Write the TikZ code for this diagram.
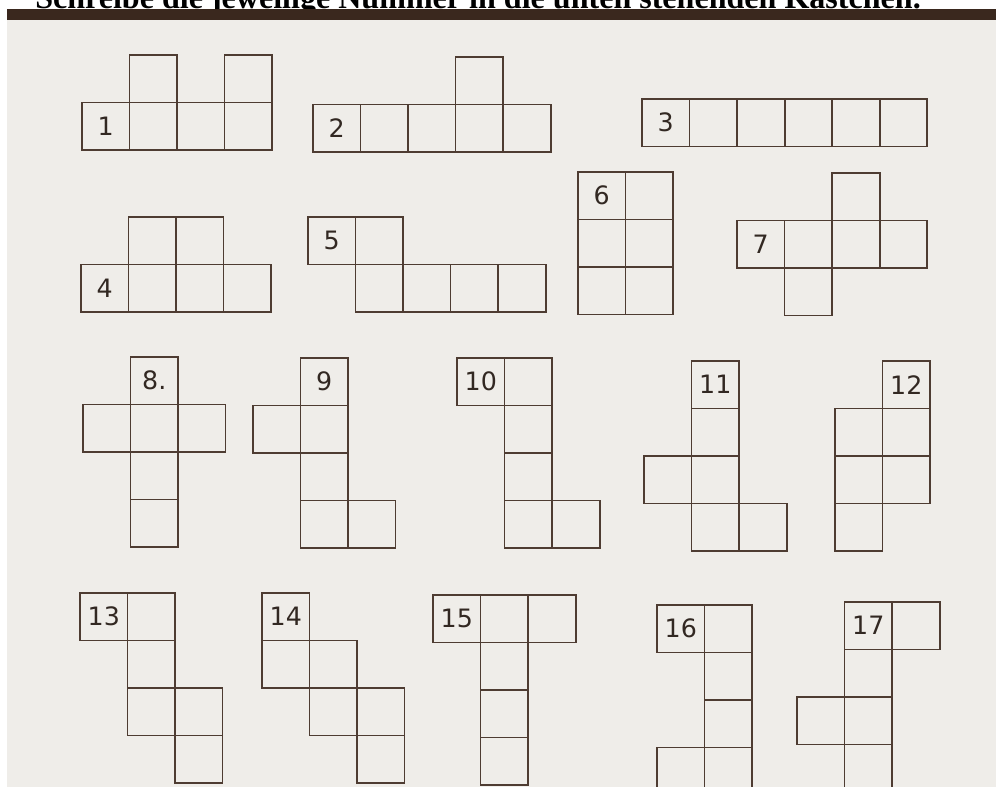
\documentclass[tikz,border=0pt]{standalone}
\usepackage{fontspec}
\setmainfont{Liberation Serif}
\setsansfont{DejaVu Sans}
\usetikzlibrary{positioning}
\definecolor{papier}{RGB}{239,237,233}
\definecolor{balken}{RGB}{58,40,30}
\definecolor{strich}{RGB}{78,60,50}
\definecolor{ziffer}{RGB}{50,40,34}

\begin{document}
\begin{tikzpicture}[x=0.025cm, y=-0.025cm,
    feld/.style={rectangle, draw=strich, line width=0.048cm, minimum size=1.1875cm, inner sep=0pt, outer sep=0pt},
    nr/.style={font=\sffamily\fontsize{18pt}{19pt}\selectfont, text=ziffer}
]
\useasboundingbox (0,0) rectangle (996,787);
\clip (0,0) rectangle (996,787);

% === BLATT & KOPFZEILE ===
\fill[white] (0,0) rectangle (996,787);
\fill[papier] (7,20) rectangle (996,787);
\node (titel) [anchor=base west, inner sep=0pt, font=\bfseries\fontsize{22.8pt}{24pt}\selectfont] at (35,9) {Schreibe die jeweilige Nummer in die unten stehenden Kästchen.};
\fill[balken] (7,9) rectangle (996,20);

% === WUERFELNETZE 1--17 ===
% Nummer / Ursprung x / y / Beschriftung / Nummernfeld / uebrige Felder
\foreach \nm/\ox/\oy/\lab/\lc/\lr/\zellen in {
    1/82/55/1/0/1/{1/1,2/1,3/1,1/0,3/0},
    2/313/57/2/0/1/{1/1,2/1,3/1,4/1,3/0},
    3/642/99/3/0/0/{1/0,2/0,3/0,4/0,5/0},
    4/81/217/4/0/1/{1/1,2/1,3/1,1/0,2/0},
    5/308/217/5/0/0/{1/0,1/1,2/1,3/1,4/1},
    6/578/172/6/0/0/{1/0,0/1,1/1,0/2,1/2},
    7/737/173/7/0/1/{2/0,1/1,2/1,3/1,1/2},
    8/83/357/8./1/0/{0/1,1/1,2/1,1/2,1/3},
    9/253/358/9/1/0/{0/1,1/1,1/2,1/3,2/3},
    10/457/358/10/0/0/{1/0,1/1,1/2,1/3,2/3},
    11/644/361/11/1/0/{1/1,0/2,1/2,1/3,2/3},
    12/835/361/12/1/0/{0/1,1/1,0/2,1/2,0/3},
    13/80/593/13/0/0/{1/0,1/1,1/2,2/2,2/3},
    14/262/593/14/0/0/{0/1,1/1,1/2,2/2,2/3},
    15/433/595/15/0/0/{1/0,2/0,1/1,1/2,1/3},
    16/657/605/16/0/0/{1/0,1/1,1/2,1/3,0/3},
    17/797/602/17/1/0/{2/0,1/1,0/2,1/2,1/3}}
{
  \begin{scope}[shift={(\ox,\oy)}, x=1.1875cm, y=-1.1875cm]
    \node (netz\nm) [feld, nr] at (\lc+.5,\lr+.5) {\lab};
    \foreach \c/\r in \zellen
      \node (netz\nm-\c-\r) [feld] at (\c+.5,\r+.5) {};
  \end{scope}
}

\end{tikzpicture}
\end{document}
